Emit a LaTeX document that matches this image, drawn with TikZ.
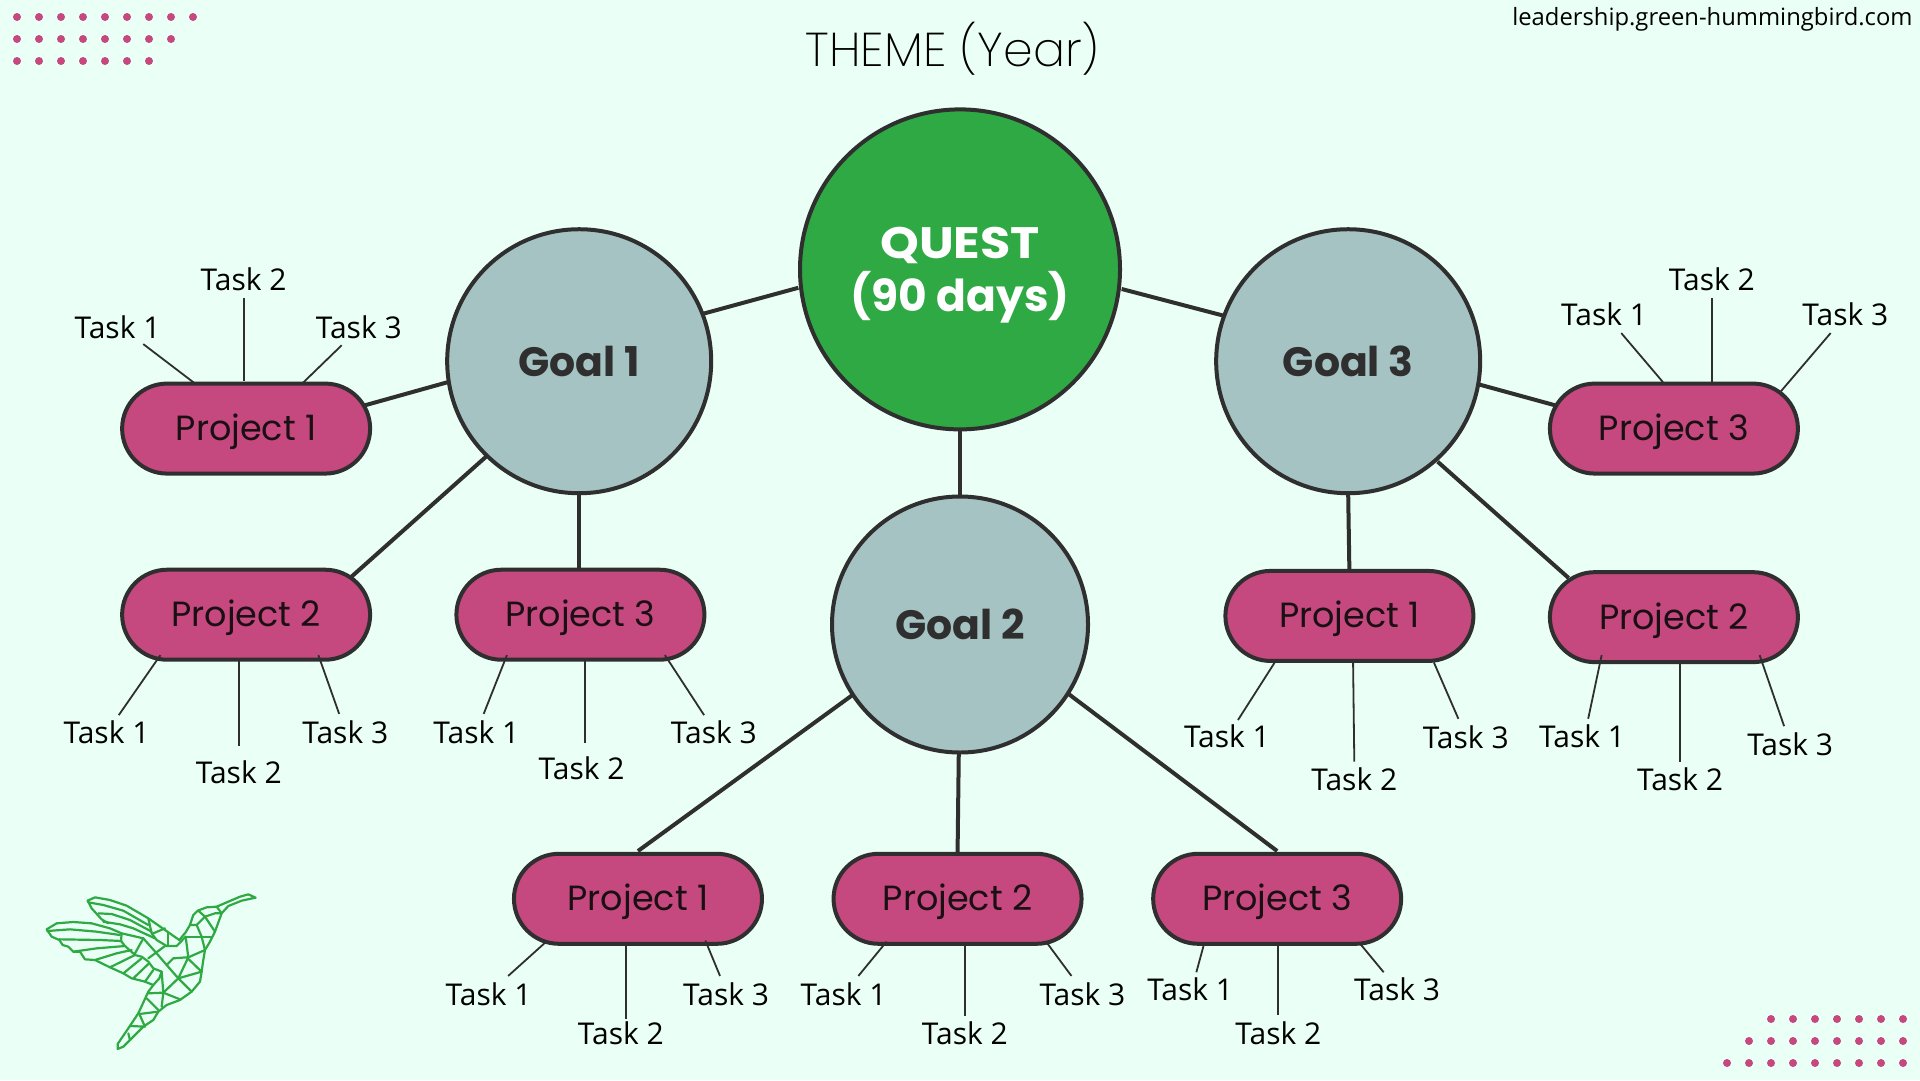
\documentclass[tikz,border=0pt]{standalone}
\usepackage{fontspec}
\usetikzlibrary{calc,shapes.misc}
\setmainfont{Open Sans}
\newfontfamily\mont{Poppins}
\newfontfamily\ttlfont{Poppins ExtraLight}
\definecolor{bgc}{HTML}{EAFFF5}
\definecolor{gr}{HTML}{2FA944}
\definecolor{gl}{HTML}{A5C3C3}
\definecolor{pk}{HTML}{C5487F}
\definecolor{ink}{HTML}{2F2F2F}
\definecolor{pjt}{HTML}{1A1014}
\pgfdeclarelayer{bg}
\pgfsetlayers{bg,main}
\tikzset{
  questnode/.style={circle,draw=ink,line width=4pt,fill=gr,minimum size=320pt,inner sep=0pt,outer sep=0pt,text=white,align=center,font=\mont\bfseries\fontsize{44}{53}\selectfont},
  goalnode/.style={circle,draw=ink,line width=4pt,fill=gl,minimum size=264pt,inner sep=0pt,outer sep=0pt,text=ink,font=\mont\bfseries\fontsize{41}{46}\selectfont},
  pill/.style={rounded rectangle,draw=ink,line width=4pt,fill=pk,minimum width=248pt,minimum height=90pt,inner sep=0pt,outer sep=0pt,text=pjt,font=\mont\fontsize{35}{40}\selectfont},
  tasklabel/.style={inner sep=0pt,text=black,font=\fontsize{30}{34}\selectfont},
  tline/.style={draw=ink,line width=1.8pt},
  gline/.style={draw=ink,line width=4pt},
  dot/.style={fill=pk},
  bird/.style={draw=gr,line width=2.2pt,line join=round,line cap=round}
}
\newcommand{\pjtext}[1]{\raisebox{-12pt}[0pt][0pt]{#1}}
\newcommand{\tasklink}[6]{%
  \node[tasklabel] (#1) at (#2) {#3};
  \draw[tline] ($(#4.center)+(#5)$) -- ($(#1.center)+(#6)$);}
\newcommand{\edgelink}[4]{%
  \begin{pgfonlayer}{bg}
    \draw[gline] ($(#1.center)+(#2)$) -- ($(#3.center)+(#4)$);
  \end{pgfonlayer}}
\begin{document}
\begin{tikzpicture}[x=1.2245pt,y=-1.2245pt]
\begin{pgfonlayer}{bg}
  \fill[bgc] (0pt,0pt) rectangle (1920pt,-1080pt);
\end{pgfonlayer}
\useasboundingbox (0pt,0pt) rectangle (1920pt,-1080pt);

% decorative dots
\begin{scope}[x=1pt,y=-1pt]
  \foreach \r/\n in {0/8,1/7,2/6}
    \foreach \i in {0,...,\n}
      \fill[dot] ({17+22*\i},{17+22*\r}) circle (4pt);
  \foreach \r/\s in {0/2,1/1,2/0}
    \foreach \i in {\s,...,8}
      \fill[dot] ({1727+22*\i},{1019+22*\r}) circle (4pt);
\end{scope}

% hummingbird
\begin{scope}[x=0.3333pt,y=-0.3333pt,xshift=20pt,yshift=-870pt]
  \draw[bird] (203,92)--(225,82)--(270,90)--(320,107)--(385,145)--(435,180)--(478,210);
  \draw[bird] (203,92)--(215,115)--(245,148)--(265,160);
  \draw[bird] (205,97)--(250,105)--(310,122)--(385,165);
  \draw[bird] (235,130)--(275,132)--(330,150)--(395,185);
  \draw[bird] (250,155)--(300,163)--(340,175)--(405,205);
  \draw[bird] (80,178)--(110,160)--(160,156)--(215,160)--(270,175)--(305,190)--(370,205);
  \draw[bird] (80,178)--(95,200)--(118,210)--(128,225)--(145,230)--(160,245)--(180,245)--(195,268)--(225,270)--(270,292)--(310,310)--(335,325)--(375,335)--(400,345)--(418,325)--(425,305);
  \draw[bird] (82,183)--(150,178)--(230,185)--(300,195);
  \draw[bird] (118,208)--(240,210)--(305,213);
  \draw[bird] (160,245)--(230,235)--(315,228);
  \draw[bird] (225,270)--(290,250)--(335,240);
  \draw[bird] (270,292)--(345,255);
  \draw[bird] (310,310)--(365,265);
  \draw[bird] (340,325)--(385,282);
  \draw[bird] (375,335)--(400,300);
  \draw[bird] (305,190)--(303,213)--(315,228)--(345,255)--(365,260)--(385,275)--(400,295)--(425,305);
  \draw[bird] (370,205)--(345,250);
  \draw[bird] (370,205)--(410,250)--(440,285);
  \draw[bird] (385,265)--(435,228)--(470,228)--(497,200);
  \draw[bird] (400,190)--(435,175);
  \draw[bird] (385,145)--(395,190)--(410,210)--(440,228);
  \draw[bird] (445,190)--(445,225);
  \draw[bird] (440,285)--(460,265)--(500,262)--(545,305);
  \draw[bird] (497,200)--(575,200);
  \draw[bird] (497,200)--(505,262)--(475,325);
  \draw[bird] (505,262)--(555,240)--(545,200)--(530,165)--(510,165);
  \draw[bird] (530,165)--(555,140)--(535,122);
  \draw[bird] (555,140)--(585,185);
  \draw[bird] (555,140)--(585,130)--(605,130)--(590,110);
  \draw[bird] (478,210)--(497,187)--(510,165)--(520,135)--(533,122)--(560,112)--(590,110)--(660,80)--(685,73)--(707,83)--(665,92)--(625,108)--(605,130)--(585,185)--(570,215)--(555,240)--(550,270)--(545,305)--(540,335)--(515,365)--(480,390)--(440,405)--(415,425)--(400,450)--(370,470)--(340,500)--(310,530)--(293,537)--(293,522)--(325,475)--(355,430)--(385,365)--(400,345);
  \draw[bird] (440,285)--(475,325)--(515,365);
  \draw[bird] (475,325)--(545,305);
  \draw[bird] (475,325)--(430,368)--(425,305);
  \draw[bird] (430,368)--(385,370);
  \draw[bird] (430,368)--(425,410);
  \draw[bird] (430,368)--(480,388);
  \draw[bird] (380,385)--(415,420);
  \draw[bird] (415,425)--(358,432)--(375,470)--(330,468);
  \draw[bird] (325,490)--(330,510);
\end{scope}

% texts
\node[font=\ttlfont\fontsize{47.5}{52}\selectfont,text=black,inner sep=0pt] (title) at (778,40) {THEME (Year)};
\node[font=\fontsize{23.8}{28}\selectfont,text=black,anchor=east,inner sep=0pt] (site) at (1562,16) {leadership.green-hummingbird.com};

% main nodes
\node[questnode] (q) at (784,220) {\rule{0pt}{43pt}\scalebox{1.12}[1]{QUEST}\\(90 days)};
\node[goalnode] (g1) at (473,295) {Goal 1};
\node[goalnode] (g3) at (1101,295) {Goal 3};
\node[goalnode,minimum size=256pt] (g2) at (784,510) {Goal 2};

\node[pill] (a1) at (201,350) {\pjtext{Project 1}};
\node[pill] (a2) at (201,502) {\pjtext{Project 2}};
\node[pill] (a3) at (474,502) {\pjtext{Project 3}};
\node[pill] (b1) at (521,734) {\pjtext{Project 1}};
\node[pill] (b2) at (782,734) {\pjtext{Project 2}};
\node[pill] (b3) at (1043,734) {\pjtext{Project 3}};
\node[pill] (c1) at (1102,503) {\pjtext{Project 1}};
\node[pill] (c2) at (1367,504) {\pjtext{Project 2}};
\node[pill] (c3) at (1367,350) {\pjtext{Project 3}};

% thick connectors
\edgelink{q}{-132,15}{g1}{102,-39}
\edgelink{q}{132,16}{g3}{-101,-37}
\edgelink{q}{0,130}{g2}{0,-104}
\edgelink{g1}{-107,17}{a1}{97,-19}
\edgelink{g1}{-75,77}{a2}{86,-31}
\edgelink{g1}{0,108}{a3}{-1,-37}
\edgelink{g2}{-87,57}{b1}{0,-39}
\edgelink{g2}{-1,105}{b2}{0,-37}
\edgelink{g2}{89,57}{b3}{0,-39}
\edgelink{g3}{107,19}{c3}{-97,-19}
\edgelink{g3}{0,108}{c1}{0,-36}
\edgelink{g3}{73,82}{c2}{-86,-32}

% tasks
\tasklink{a1t1}{96,267}{Task 1}{a1}{-42,-37}{21,14}
\tasklink{a1t2}{199,228}{Task 2}{a1}{-2,-39}{0,15}
\tasklink{a1t3}{293,267}{Task 3}{a1}{46,-37}{-14,15}
\tasklink{a2t1}{87,598}{Task 1}{a2}{-70,33}{10,-14}
\tasklink{a2t2}{195,631}{Task 2}{a2}{-6,38}{0,-22}
\tasklink{a2t3}{282,598}{Task 3}{a2}{59,33}{-5,-15}
\tasklink{a3t1}{389,598}{Task 1}{a3}{-60,33}{6,-15}
\tasklink{a3t2}{475,627}{Task 2}{a3}{4,38}{3,-20}
\tasklink{a3t3}{583,598}{Task 3}{a3}{69,33}{-8,-14}
\tasklink{b1t1}{399,812}{Task 1}{b1}{-76,36}{16,-15}
\tasklink{b1t2}{507,844}{Task 2}{b1}{-10,38}{4,-12}
\tasklink{b1t3}{593,812}{Task 3}{b1}{55,34}{-5,-15}
\tasklink{b2t1}{689,812}{Task 1}{b2}{-58,35}{12,-15}
\tasklink{b2t2}{788,844}{Task 2}{b2}{6,38}{0,-14}
\tasklink{b2t3}{884,812}{Task 3}{b2}{73,36}{-9,-15}
\tasklink{b3t1}{972,808}{Task 1}{b3}{-60,38}{5,-14}
\tasklink{b3t2}{1044,844}{Task 2}{b3}{1,38}{0,-15}
\tasklink{b3t3}{1141,808}{Task 3}{b3}{68,37}{-11,-14}
\tasklink{c1t1}{1002,601}{Task 1}{c1}{-61,38}{9,-13}
\tasklink{c1t2}{1106,636}{Task 2}{c1}{3,38}{0,-14}
\tasklink{c1t3}{1197,602}{Task 3}{c1}{69,38}{-6,-15}
\tasklink{c2t1}{1292,601}{Task 1}{c2}{-59,31}{5,-14}
\tasklink{c2t2}{1372,636}{Task 2}{c2}{5,38}{0,-14}
\tasklink{c2t3}{1462,608}{Task 3}{c2}{70,31}{-5,-15}
\tasklink{c3t1}{1310,257}{Task 1}{c3}{-9,-38}{14,15}
\tasklink{c3t2}{1398,228}{Task 2}{c3}{31,-37}{0,15}
\tasklink{c3t3}{1507,257}{Task 3}{c3}{87,-30}{-12,15}
\end{tikzpicture}
\end{document}
